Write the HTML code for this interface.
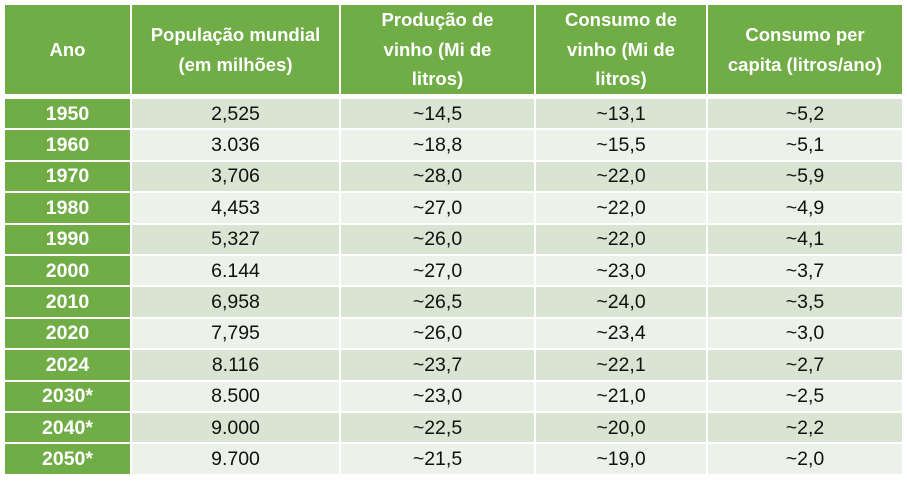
<!DOCTYPE html><html><head><meta charset="utf-8"><style>
body{margin:0;width:907px;height:487px;background:#fff;position:relative;font-family:"Liberation Sans",sans-serif;overflow:hidden}
table{position:absolute;left:3px;top:3px;border-collapse:separate;border-spacing:2px;}
td{padding:0;text-align:center;color:#111;font-size:19.5px;height:29.4px;line-height:20px}
th{background:#70ad47;color:#fff;font-size:18.5px;font-weight:bold;height:89px;padding:0;line-height:29.5px}
td.y{background:#70ad47;color:#fff;font-weight:bold}
tr.a td{background:#d9e4d2}
tr.b td{background:#ecf1e9}
tr.a td.y,tr.b td.y{background:#70ad47}
tr.gap td{height:1px;background:#fff}
</style></head><body>
<table>
<tr><th style="width:125px">Ano</th><th style="width:207px">População mundial<br>(em milhões)</th><th style="width:193px">Produção de<br>vinho (Mi de<br>litros)</th><th style="width:170px">Consumo de<br>vinho (Mi de<br>litros)</th><th style="width:194px">Consumo per<br>capita (litros/ano)</th></tr>
<tr class="gap"><td colspan="5" style="height:1px"></td></tr>
<tr class="a"><td class="y">1950</td><td>2,525</td><td>~14,5</td><td>~13,1</td><td>~5,2</td></tr>
<tr class="b"><td class="y">1960</td><td>3.036</td><td>~18,8</td><td>~15,5</td><td>~5,1</td></tr>
<tr class="a"><td class="y">1970</td><td>3,706</td><td>~28,0</td><td>~22,0</td><td>~5,9</td></tr>
<tr class="b"><td class="y">1980</td><td>4,453</td><td>~27,0</td><td>~22,0</td><td>~4,9</td></tr>
<tr class="a"><td class="y">1990</td><td>5,327</td><td>~26,0</td><td>~22,0</td><td>~4,1</td></tr>
<tr class="b"><td class="y">2000</td><td>6.144</td><td>~27,0</td><td>~23,0</td><td>~3,7</td></tr>
<tr class="a"><td class="y">2010</td><td>6,958</td><td>~26,5</td><td>~24,0</td><td>~3,5</td></tr>
<tr class="b"><td class="y">2020</td><td>7,795</td><td>~26,0</td><td>~23,4</td><td>~3,0</td></tr>
<tr class="a"><td class="y">2024</td><td>8.116</td><td>~23,7</td><td>~22,1</td><td>~2,7</td></tr>
<tr class="b"><td class="y">2030*</td><td>8.500</td><td>~23,0</td><td>~21,0</td><td>~2,5</td></tr>
<tr class="a"><td class="y">2040*</td><td>9.000</td><td>~22,5</td><td>~20,0</td><td>~2,2</td></tr>
<tr class="b"><td class="y">2050*</td><td>9.700</td><td>~21,5</td><td>~19,0</td><td>~2,0</td></tr>
</table>
</body></html>
